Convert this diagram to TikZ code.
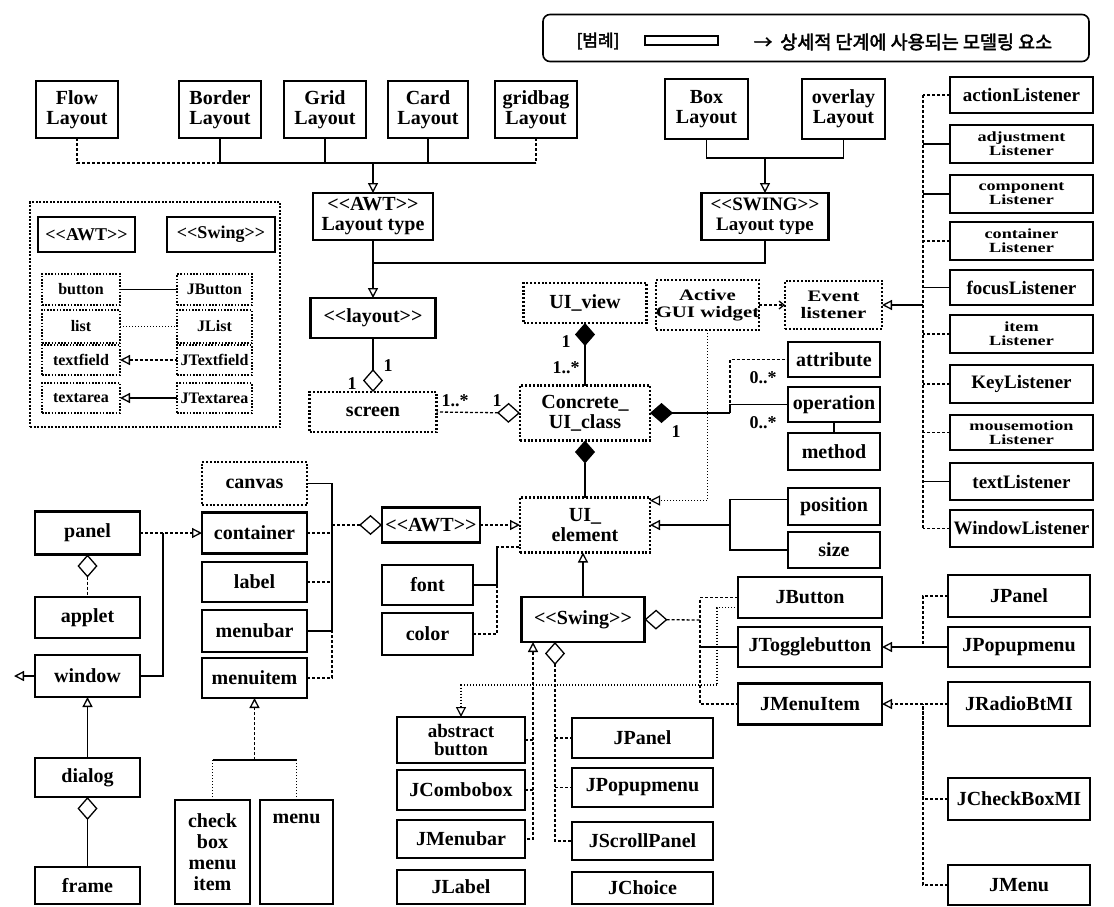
\documentclass[tikz,border=0pt]{standalone}
\usepackage{fontspec}
\setmainfont{Liberation Serif}[Ligatures=TeXOff]
\newfontfamily\krfont{Noto Sans CJK KR}[FakeBold=2.5]
\newfontfamily\widefont{Liberation Serif}[FakeStretch=1.3, Ligatures=TeXOff]
\usetikzlibrary{arrows.meta}

\tikzset{
  every node/.style={font=\bfseries\fontsize{20}{20}\selectfont, align=center, inner sep=0pt, outer sep=0pt},
  solidbox/.style={draw, line width=2.4pt},
  dotbox/.style={draw, line width=2.2pt, dash pattern=on 2pt off 1.8pt},
  smalldot/.style={draw, line width=1.8pt, dash pattern=on 1.6pt off 1.6pt, font=\bfseries\fontsize{16}{16}\selectfont},
  lsn/.style={solidbox, minimum width=143pt, font=\bfseries\fontsize{19}{19}\selectfont},
  lsntwo/.style={solidbox, minimum width=143pt, font=\widefont\bfseries\fontsize{14}{14}\selectfont},
  widetxt/.style={font=\widefont\bfseries\fontsize{16}{17}\selectfont},
  lab/.style={font=\bfseries\fontsize{18}{18}\selectfont},
  ln/.style={line width=1.3pt},
  dsh/.style={line width=1.3pt, dash pattern=on 3pt off 2pt},
  dot/.style={line width=1.2pt, dash pattern=on 1pt off 2pt},
  gen/.style={-{Triangle[open, length=10pt, width=10pt]}},
  genr/.style={{Triangle[open, length=10pt, width=10pt]}-},
  agg/.style={{Diamond[open, length=23pt, width=20pt]}-},
  comp/.style={{Diamond[length=23pt, width=20pt]}-}
}

\begin{document}
\begin{tikzpicture}[x=1pt, y=-1pt]
\fill[white] (0,0) rectangle (1114,906);
\useasboundingbox (0,0) rectangle (1114,906);

% ---- legend strip ----
\node[draw, line width=1.6pt, rounded corners=7pt, minimum width=546pt, minimum height=47pt] (legend) at (816,38) {};
\node[font=\krfont\fontsize{17}{17}\selectfont] (legkey) at (598,41) {[범례]};
\node[solidbox, line width=2pt, minimum width=73pt, minimum height=9pt] (legbox) at (681.5,40) {};
\node[font=\krfont\fontsize{18.5}{18.5}\selectfont] (legtext) at (903,42) {→\hspace{8pt}상세적 단계에 사용되는 모델링 요소};

% ---- layout classes ----
\node[solidbox, minimum width=82pt, minimum height=57pt] (flow) at (77,109.5) {Flow\\Layout};
\node[solidbox, minimum width=82pt, minimum height=57pt] (border) at (220,109.5) {Border\\Layout};
\node[solidbox, minimum width=82pt, minimum height=57pt] (grid) at (325,109.5) {Grid\\Layout};
\node[solidbox, minimum width=80pt, minimum height=57pt] (card) at (428,109.5) {Card\\Layout};
\node[solidbox, minimum width=82pt, minimum height=57pt] (gridbag) at (536,109.5) {gridbag\\Layout};
\node[solidbox, minimum width=83pt, minimum height=60pt] (boxl) at (706.5,109) {Box\\Layout};
\node[solidbox, minimum width=83pt, minimum height=60pt] (overlay) at (843.5,109) {overlay\\Layout};
\node[solidbox, minimum width=120pt, minimum height=47pt] (awtlt) at (373,216.5) {<<AWT>>\\Layout type};
\node[solidbox, minimum width=127pt, minimum height=47pt, font=\bfseries\fontsize{19}{20}\selectfont] (swinglt) at (765,216.5) {<<SWING>>\\Layout type};
\node[solidbox, minimum width=125pt, minimum height=40pt] (layout) at (373,318) {<<layout>>};

% ---- conceptual core ----
\node[dotbox, minimum width=127pt, minimum height=40pt] (screen) at (373,412) {screen};
\node[dotbox, minimum width=123pt, minimum height=40pt] (uiview) at (585,303) {UI\_view};
\node[dotbox, minimum width=101pt, minimum height=50pt, widetxt] (active) at (707.5,305) {Active\\GUI widget};
\node[dotbox, minimum width=97pt, minimum height=48pt, widetxt] (event) at (833.5,305) {Event\\listener};
\node[dotbox, minimum width=130pt, minimum height=55pt] (concrete) at (585,413) {Concrete\_\\UI\_class};
\node[dotbox, minimum width=130pt, minimum height=55pt] (uielem) at (585,525) {UI\_\\element};

\node[solidbox, minimum width=92pt, minimum height=35pt] (attribute) at (834,359.5) {attribute};
\node[solidbox, minimum width=92pt, minimum height=35pt] (operation) at (834,404.5) {operation};
\node[solidbox, minimum width=92pt, minimum height=37pt] (method) at (834,451.5) {method};
\node[solidbox, minimum width=92pt, minimum height=37pt] (position) at (834,506.5) {position};
\node[solidbox, minimum width=92pt, minimum height=36pt] (size) at (834,550) {size};

\node[solidbox, minimum width=98pt, minimum height=35pt] (awt2) at (431,525) {<<AWT>>};
\node[solidbox, minimum width=91pt, minimum height=40pt] (font) at (427.5,585) {font};
\node[solidbox, minimum width=91pt, minimum height=42pt] (color) at (427.5,634) {color};
\node[solidbox, minimum width=123pt, minimum height=45pt] (swing2) at (583,619.5) {<<Swing>>};

% ---- event listeners ----
\node[lsn, minimum height=36pt] (actionL) at (1021.5,95) {actionListener};
\node[lsntwo, minimum height=38pt] (adjustL) at (1021.5,144) {adjustment\\Listener};
\node[lsntwo, minimum height=38pt] (componentL) at (1021.5,194) {component\\Listener};
\node[lsntwo, minimum height=38pt] (containerL) at (1021.5,241) {container\\Listener};
\node[lsn, minimum height=35pt] (focusL) at (1021.5,287.5) {focusListener};
\node[lsntwo, minimum height=38pt] (itemL) at (1021.5,334) {item\\Listener};
\node[lsn, minimum height=38pt] (keyL) at (1021.5,384) {KeyListener};
\node[lsntwo, minimum height=35pt] (mouseL) at (1021.5,432.5) {mousemotion\\Listener};
\node[lsn, minimum height=37pt] (textL) at (1021.5,481.5) {textListener};
\node[lsn, minimum height=37pt] (windowL) at (1021.5,528.5) {WindowListener};

% ---- AWT / Swing correspondence panel ----
\node[draw, line width=1.2pt, dash pattern=on 2pt off 1.5pt, minimum width=250pt, minimum height=225pt] (inset) at (155,314.5) {};
\node[solidbox, minimum width=97pt, minimum height=35pt, font=\bfseries\fontsize{18}{18}\selectfont] (iawt) at (86.5,234.5) {<<AWT>>};
\node[solidbox, minimum width=108pt, minimum height=35pt, font=\bfseries\fontsize{18}{18}\selectfont] (iswing) at (221,234.5) {<<Swing>>};
\node[smalldot, minimum width=78pt, minimum height=31pt] (ibutton) at (81,289.5) {button};
\node[smalldot, minimum width=78pt, minimum height=33pt] (ilist) at (81,326.5) {list};
\node[smalldot, minimum width=78pt, minimum height=30pt] (itextfield) at (81,360) {textfield};
\node[smalldot, minimum width=78pt, minimum height=30pt] (itextarea) at (81,398) {textarea};
\node[smalldot, minimum width=75pt, minimum height=31pt] (ijbutton) at (214.5,289.5) {JButton};
\node[smalldot, minimum width=75pt, minimum height=33pt] (ijlist) at (214.5,326.5) {JList};
\node[smalldot, minimum width=75pt, minimum height=30pt] (ijtextfield) at (214.5,360) {JTextfield};
\node[smalldot, minimum width=75pt, minimum height=30pt] (ijtextarea) at (214.5,398) {JTextarea};

% ---- AWT components ----
\node[dotbox, minimum width=105pt, minimum height=43pt] (canvas) at (254.5,483.5) {canvas};
\node[solidbox, minimum width=105pt, minimum height=41pt] (container) at (254.5,533) {container};
\node[solidbox, minimum width=105pt, minimum height=40pt] (label) at (254.5,582) {label};
\node[solidbox, minimum width=105pt, minimum height=42pt] (menubar) at (254.5,631) {menubar};
\node[solidbox, minimum width=105pt, minimum height=40pt] (menuitem) at (254.5,678) {menuitem};
\node[solidbox, minimum width=105pt, minimum height=43pt] (panel) at (87.5,533) {panel};
\node[solidbox, minimum width=105pt, minimum height=41pt] (applet) at (87.5,617.5) {applet};
\node[solidbox, minimum width=105pt, minimum height=42pt] (window) at (87.5,676) {window};
\node[solidbox, minimum width=105pt, minimum height=39pt] (dialog) at (87.5,777.5) {dialog};
\node[solidbox, minimum width=105pt, minimum height=37pt] (frame) at (87.5,885.5) {frame};
\node[solidbox, minimum width=75pt, minimum height=104pt, font=\bfseries\fontsize{20}{21}\selectfont] (checkbox) at (212.5,852) {check\\box\\menu\\item};
\node[solidbox, minimum width=73pt, minimum height=104pt, label={[anchor=north, yshift=-14pt]north:menu}] (menu) at (296.5,852) {};

% ---- Swing components ----
\node[solidbox, minimum width=128pt, minimum height=46pt, font=\bfseries\fontsize{19}{18}\selectfont] (absbtn) at (461,740) {abstract\\button};
\node[solidbox, minimum width=128pt, minimum height=40pt] (jcombo) at (461,790) {JCombobox};
\node[solidbox, minimum width=128pt, minimum height=38pt] (jmenubar) at (461,839) {JMenubar};
\node[solidbox, minimum width=128pt, minimum height=34pt] (jlabel) at (461,887) {JLabel};
\node[solidbox, minimum width=141pt, minimum height=40pt] (jpanel1) at (642.5,738) {JPanel};
\node[solidbox, minimum width=141pt, minimum height=39pt] (jpopup1) at (642.5,787.5) {JPopupmenu};
\node[solidbox, minimum width=141pt, minimum height=38pt] (jscroll) at (642.5,841) {JScrollPanel};
\node[solidbox, minimum width=141pt, minimum height=32pt] (jchoice) at (642.5,888) {JChoice};

\node[solidbox, minimum width=144pt, minimum height=41pt] (jbutton) at (810,597.5) {JButton};
\node[solidbox, minimum width=144pt, minimum height=40pt] (jtoggle) at (810,647) {JTogglebutton};
\node[solidbox, minimum width=144pt, minimum height=41pt] (jmenuitem) at (810,704) {JMenuItem};
\node[solidbox, minimum width=142pt, minimum height=42pt] (jpanel2) at (1019,596) {JPanel};
\node[solidbox, minimum width=142pt, minimum height=40pt] (jpopup2) at (1019,647) {JPopupmenu};
\node[solidbox, minimum width=142pt, minimum height=44pt] (jradio) at (1019,704) {JRadioBtMI};
\node[solidbox, minimum width=142pt, minimum height=42pt] (jcheck) at (1019,799) {JCheckBoxMI};
\node[solidbox, minimum width=142pt, minimum height=40pt] (jmenu) at (1019,885) {JMenu};

% ---- layout generalisation ----
\coordinate (awtj) at (373,163);
\draw[dsh] (flow.south) |- (border.south |- awtj);
\draw[ln] (border.south) -- (border.south |- awtj) -- (gridbag.south |- awtj);
\draw[ln] (grid.south) -- (grid.south |- awtj);
\draw[ln] (card.south) -- (card.south |- awtj);
\draw[dsh] (gridbag.south) -- (gridbag.south |- awtj);
\draw[ln, gen] (awtj) -- (awtlt.north);

\coordinate (swj) at (765,158);
\draw[ln] (boxl.south) |- (swj);
\draw[ln] (overlay.south) |- (swj);
\draw[ln, gen] (swj) -- (swinglt.north);

\coordinate (lyj) at (373,263);
\draw[ln] (awtlt.south) -- (lyj);
\draw[ln] (swinglt.south) |- (lyj);
\draw[ln, gen] (lyj) -- (layout.north);

% ---- core associations ----
\draw[ln, agg] (screen.north) -- (layout.south);
\node[lab] (m1) at (388,366) {1};
\node[lab] (m2) at (352,384) {1};

\draw[dsh, agg] (concrete.west) -- (screen.east);
\node[lab] (m3) at (455,401) {1..*};
\node[lab] (m4) at (497,401) {1};

\draw[ln, comp] (uiview.south) -- (concrete.north);
\node[lab] (m5) at (566,342) {1};
\node[lab] (m6) at (566,368) {1..*};

\draw[ln, comp] (concrete.south) -- (uielem.north);

\coordinate (cj) at (730,413);
\draw[ln, comp] (concrete.east) -- (cj);
\draw[ln] (cj) |- (operation.west);
\draw[dsh] (cj) |- (attribute.west);
\node[lab] (m7) at (763,378) {0..*};
\node[lab] (m8) at (763,423) {0..*};
\node[lab] (m9) at (676,432) {1};
\draw[ln] (operation.south) -- (method.north);

\coordinate (pj) at (730,525);
\draw[ln, genr] (uielem.east) -- (pj);
\draw[ln] (pj) |- ([yshift=7pt]position.west);
\draw[ln] (pj) |- (size.west);

\draw[dsh, -{Straight Barb[length=5pt, width=8pt]}] (active.east) -- (event.west);
\draw[dot, gen] (active.south) |- ([yshift=-3pt]uielem.north east);

% ---- listener hierarchy ----
\coordinate (ls) at (923,305);
\draw[ln, genr] (event.east) -- (ls);
\draw[dsh] (ls |- actionL.west) -- (ls |- windowL.west);
\foreach \n in {adjustL, componentL, focusL, textL}
  \draw[ln] (\n.west) -- (\n.west -| ls);
\foreach \n in {actionL, containerL, itemL, keyL, mouseL, windowL}
  \draw[dsh] (\n.west) -- (\n.west -| ls);

% ---- AWT / Swing correspondence ----
\draw[ln] (ibutton.east) -- (ijbutton.west);
\draw[dot] (ilist.east) -- (ijlist.west);
\draw[dsh, genr] (itextfield.east) -- (ijtextfield.west);
\draw[ln, genr] (itextarea.east) -- (ijtextarea.west);

% ---- AWT component hierarchy ----
\draw[dsh, gen] (panel.east) -- (container.west);
\coordinate (pw) at (163,533);
\draw[ln] (window.east) -| (pw);
\draw[dsh, agg] (panel.south) -- (applet.north);
\draw[ln, gen] (dialog.north) -- (window.south);
\draw[ln, agg] (dialog.south) -- (frame.north);
\coordinate (wl) at (14,676);
\draw[ln, gen] (window.west) -- (wl);

\coordinate (mj) at (254.5,760);
\draw[dsh, gen] (mj) -- (menuitem.south);
\draw[ln] (checkbox.north |- mj) -- (menu.north |- mj);
\draw[dot] (checkbox.north) -- (checkbox.north |- mj);
\draw[dot] (menu.north) -- (menu.north |- mj);

\coordinate (ab) at (332,525);
\draw[ln] (canvas.east) -| (ab);
\draw[dsh] (container.east) -| (ab);
\draw[dsh] (label.east) -| (ab);
\draw[ln] (menubar.east) -| (ab);
\draw[dsh] (menuitem.east) -| (ab);
\draw[dsh, agg] (awt2.west) -- (ab);

\draw[dsh, gen] (awt2.east) -- (uielem.west);
\coordinate (fc) at (497,547);
\draw[ln] (font.east) -| (fc);
\draw[dsh] (color.east) -| (fc) -- (fc -| uielem.west);
\draw[ln, gen] (swing2.north) -- (swing2.north |- uielem.south);

% ---- Swing component hierarchy ----
\coordinate (sb) at (700,620);
\draw[dsh, agg] (swing2.east) -- (sb);
\draw[dsh] (jbutton.west) -- (sb |- jbutton.west) -- (sb |- jmenuitem.west) -- (jmenuitem.west);
\draw[ln] (sb |- jtoggle.west) -- (jtoggle.west);

\coordinate (ib) at (717,685);
\draw[dot, gen] ([yshift=-10pt]jbutton.west) -| (ib) -| (absbtn.north);

\coordinate (sl) at (533,642);
\draw[dsh, genr] (sl) -- (sl |- jmenubar.east) -- (jmenubar.east);
\draw[dsh] (sl |- absbtn.east) -- (absbtn.east);
\draw[dsh] (sl |- jcombo.east) -- (jcombo.east);
\coordinate (sr) at (555,642);
\draw[dsh, agg] (sr) -- (sr |- jscroll.west) -- (jscroll.west);
\draw[dsh] (sr |- jpanel1.west) -- (jpanel1.west);
\draw[dsh] (sr |- jpopup1.west) -- (jpopup1.west);

\draw[ln, gen] (jpopup2.west) -- (jtoggle.east);
\coordinate (rb) at (923,647);
\draw[dsh] (jpanel2.west) -| (rb);
\draw[dsh, gen] (jradio.west) -- (jmenuitem.east);
\coordinate (rb2) at (923,704);
\draw[dsh] (jcheck.west) -| (rb2);
\draw[dsh] (jmenu.west) -| (rb2);
\end{tikzpicture}
\end{document}
